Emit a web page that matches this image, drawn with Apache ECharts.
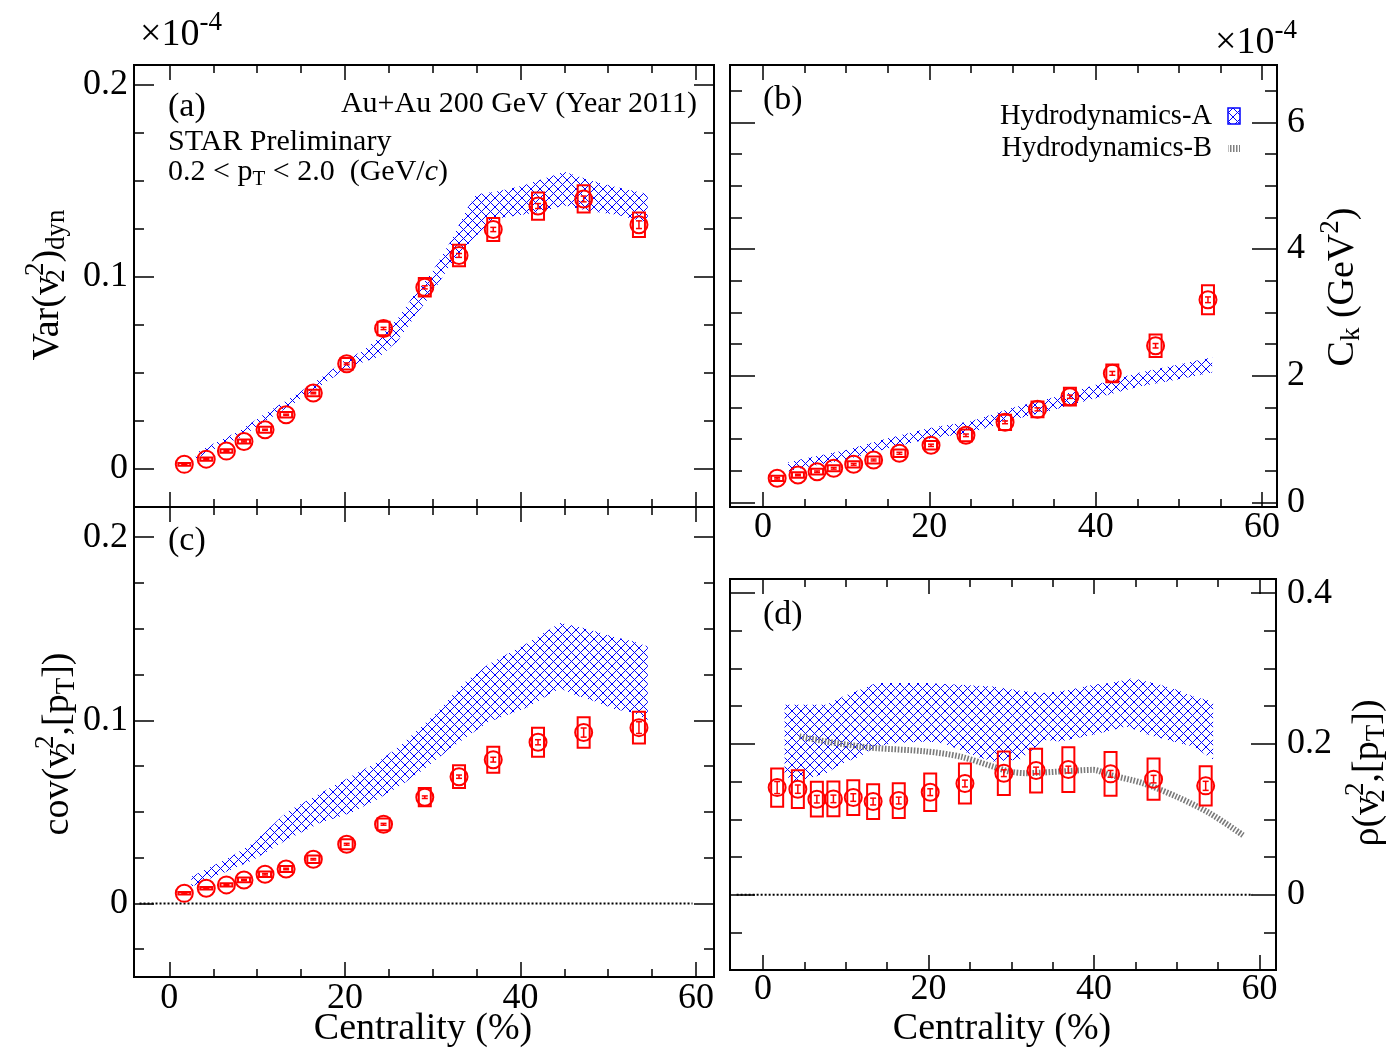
<!DOCTYPE html>
<html>
<head>
<meta charset="utf-8">
<script src="https://cdn.jsdelivr.net/npm/echarts@6/dist/echarts.min.js"></script>
<style>
  html, body { margin: 0; padding: 0; background: #fff; }
  #chart { width: 1390px; height: 1052px; }
</style>
</head>
<body>
<div id="chart"></div>
<script>
// ---- measured points (centrality bin centres, %) ----
const centrality = [1.7, 4.2, 6.5, 8.5, 10.9, 13.3, 16.4, 20.2, 24.4, 29.1, 33.0, 36.9, 42.0, 47.2, 53.5];

// (a) Var(v2^2)_dyn  [x1e-4]
const varDyn  = [0.0023, 0.0050, 0.0092, 0.0142, 0.0203, 0.0281, 0.0394, 0.0546, 0.0730, 0.0944, 0.1110, 0.1245, 0.1367, 0.1404, 0.1270];
const varSys  = [0.0007, 0.0008, 0.0009, 0.0010, 0.0016, 0.0014, 0.0017, 0.0030, 0.0035, 0.0048, 0.0056, 0.0060, 0.0071, 0.0071, 0.0064];
const varStat = [0.0002, 0.0002, 0.0002, 0.0003, 0.0003, 0.0003, 0.0004, 0.0005, 0.0006, 0.0008, 0.0010, 0.0011, 0.0013, 0.0015, 0.0020];

// (b) C_k  [x1e-4 GeV^2]
const ck     = [0.379, 0.431, 0.483, 0.537, 0.600, 0.668, 0.774, 0.900, 1.058, 1.263, 1.468, 1.667, 2.036, 2.472, 3.198];
const ckSys  = [0.042, 0.042, 0.045, 0.047, 0.050, 0.055, 0.060, 0.068, 0.092, 0.120, 0.124, 0.140, 0.140, 0.176, 0.229];
const ckStat = [0.012, 0.012, 0.012, 0.013, 0.014, 0.015, 0.016, 0.018, 0.020, 0.022, 0.024, 0.026, 0.030, 0.035, 0.045];

// (c) cov(v2^2,[pT])  [x1e-4]
const cov     = [0.0055, 0.0083, 0.0101, 0.0128, 0.0159, 0.0188, 0.0241, 0.0323, 0.0432, 0.0580, 0.0692, 0.0785, 0.0880, 0.0933, 0.0960];
const covSys  = [0.0007, 0.0007, 0.0009, 0.0013, 0.0015, 0.0016, 0.0020, 0.0027, 0.0032, 0.0050, 0.0062, 0.0071, 0.0079, 0.0083, 0.0087];
const covStat = [0.0003, 0.0003, 0.0003, 0.0003, 0.0004, 0.0004, 0.0004, 0.0005, 0.0005, 0.0007, 0.0009, 0.0013, 0.0014, 0.0025, 0.0032];

// (d) rho(v2^2,[pT])
const rho     = [0.1421, 0.1400, 0.1267, 0.1271, 0.1289, 0.1236, 0.1249, 0.1360, 0.1475, 0.1612, 0.1647, 0.1660, 0.1603, 0.1533, 0.1444];
const rhoSys  = [0.0254, 0.0250, 0.0230, 0.0230, 0.0230, 0.0230, 0.0230, 0.0248, 0.0265, 0.0288, 0.0290, 0.0296, 0.0290, 0.0274, 0.0260];
const rhoStat = [0.0080, 0.0055, 0.0050, 0.0050, 0.0050, 0.0045, 0.0045, 0.0045, 0.0045, 0.0045, 0.0045, 0.0045, 0.0045, 0.0050, 0.0060];

// ---- Hydrodynamics-A bands (lower / upper edges) ----
const bandAx  = [3, 5, 8, 11, 14, 17, 20, 22, 24, 26, 28, 30, 32, 34, 35, 37, 40, 42, 45, 48, 51, 54.5];
const bandALo = [0.0051, 0.0100, 0.0162, 0.0250, 0.0334, 0.0425, 0.0515, 0.0553, 0.0585, 0.0664, 0.0793, 0.0919, 0.1060, 0.1166, 0.1214, 0.1300, 0.1320, 0.1335, 0.1370, 0.1340, 0.1322, 0.1280];
const bandAHi = [0.0081, 0.0130, 0.0198, 0.0290, 0.0374, 0.0465, 0.0565, 0.0613, 0.0685, 0.0780, 0.0913, 0.1029, 0.1180, 0.1360, 0.1430, 0.1440, 0.1470, 0.1500, 0.1545, 0.1500, 0.1465, 0.1430];

const bandBx  = [3, 5, 10, 15, 20, 25, 30, 35, 40, 45, 50, 54];
const bandBLo = [0.49, 0.55, 0.675, 0.85, 1.005, 1.10, 1.305, 1.46, 1.645, 1.82, 1.945, 2.05];
const bandBHi = [0.63, 0.69, 0.825, 1.01, 1.175, 1.28, 1.495, 1.66, 1.855, 2.04, 2.175, 2.29];

const bandCx  = [2.5, 7, 9.5, 13.4, 17.3, 20.6, 24, 26.6, 29, 30.4, 32.3, 33.5, 36.3, 40.9, 44.5, 46.3, 48.6, 50.7, 52.8, 54.5];
const bandCLo = [0.0091, 0.0184, 0.0236, 0.0347, 0.0442, 0.0493, 0.0575, 0.0652, 0.0732, 0.0786, 0.0856, 0.0896, 0.0990, 0.1072, 0.1175, 0.1137, 0.1102, 0.1061, 0.1042, 0.1002];
const bandCHi = [0.0146, 0.0255, 0.0328, 0.0501, 0.0605, 0.0692, 0.0780, 0.0875, 0.0978, 0.1039, 0.1140, 0.1203, 0.1305, 0.1425, 0.1531, 0.1515, 0.1485, 0.1455, 0.1432, 0.1403];

const bandDx  = [2.6, 3.6, 5.6, 7.65, 9.65, 11.7, 13.7, 15.7, 19.75, 21.75, 23.8, 25.8, 27.8, 31.0, 32.6, 33.85, 35.9, 39.9, 41.9, 43.9, 44.7, 45.9, 48.0, 50.0, 52.0, 54.4];
const bandDLo = [0.160, 0.150, 0.1546, 0.1612, 0.1745, 0.1833, 0.1966, 0.2010, 0.2032, 0.2010, 0.1922, 0.1833, 0.1767, 0.1789, 0.1922, 0.2054, 0.2032, 0.2120, 0.2175, 0.2231, 0.2200, 0.2143, 0.2077, 0.2020, 0.1966, 0.1789];
const bandDHi = [0.2519, 0.2519, 0.2519, 0.2519, 0.2630, 0.2718, 0.2807, 0.2807, 0.2807, 0.2795, 0.2784, 0.2773, 0.2762, 0.2710, 0.2685, 0.2674, 0.2696, 0.2784, 0.2807, 0.2850, 0.2873, 0.2840, 0.2784, 0.2718, 0.2630, 0.2563];

// ---- Hydrodynamics-B curve for (d) ----
const hydroBx = [4.4, 7.65, 11.7, 13.7, 19.75, 23.8, 27.8, 29.8, 31.8, 35.9, 39.9, 41.9, 45.9, 50.0, 54.0, 58.0];
const hydroBy = [0.2098, 0.2032, 0.1966, 0.1944, 0.1900, 0.1833, 0.1700, 0.1634, 0.1612, 0.1634, 0.1656, 0.1590, 0.1480, 0.1300, 0.1080, 0.0790];

// ---- zero reference lines ----
const zeroLineC = [-3.4, 59.6];
const zeroLineD = [-3.2, 59.2];

// ---- tick values ----
const xMajor  = [0, 20, 40, 60];
const xMinor  = [5, 10, 15, 25, 30, 35, 45, 50, 55];
const aYMajor = [0, 0.1, 0.2];
const aYMinor = [0.025, 0.05, 0.075, 0.125, 0.15, 0.175];
const bYMajor = [0, 2, 4, 6];
const bYMinor = [0.5, 1, 1.5, 2.5, 3, 3.5, 4.5, 5, 5.5, 6.5];
const cYMajor = [0, 0.1, 0.2];
const cYMinor = [-0.025, 0.025, 0.05, 0.075, 0.125, 0.15, 0.175];
const dYMajor = [0, 0.2, 0.4];
const dYMinor = [-0.05, 0.05, 0.1, 0.15, 0.25, 0.3, 0.35];

// ---------------------------------------------------------------
const FONT = '"Liberation Serif", "Times New Roman", serif';
const RED = '#ff0000';
const BLUE = '#0000ff';

function crossHatch(size, color) {
  const c = document.createElement('canvas');
  c.width = size; c.height = size;
  const g = c.getContext('2d');
  g.strokeStyle = color; g.lineWidth = 1;
  g.beginPath();
  g.moveTo(-1, -1); g.lineTo(size + 1, size + 1);
  g.moveTo(size + 1, -1); g.lineTo(-1, size + 1);
  g.stroke();
  return c;
}
function vStripes(color) {
  const c = document.createElement('canvas');
  c.width = 3; c.height = 3;
  const g = c.getContext('2d');
  g.fillStyle = color; g.fillRect(0, 0, 1.5, 3);
  return c;
}
const hatchFill = { image: crossHatch(9, BLUE), repeat: 'repeat' };
const stripeFill = { image: vStripes('#808080'), repeat: 'repeat' };

const grids = [
  { left: 134, top: 65,  width: 580, height: 442 },   // (a)
  { left: 730, top: 65,  width: 547, height: 442 },   // (b)
  { left: 134, top: 507, width: 580, height: 470 },   // (c)
  { left: 730, top: 579, width: 546, height: 391 }    // (d)
].map(g => Object.assign({ show: true, borderColor: '#000', borderWidth: 2, backgroundColor: 'transparent' }, g));

const panels = [
  { x: [-4.03, 62.05], y: [-0.0199, 0.2101], yMaj: aYMajor, yMin: aYMinor, ySide: 'left',  xLab: false, yLen: [20, 10], yMargin: 6,  xMargin: 4 },
  { x: [-3.97, 61.8],  y: [-0.074, 6.905],   yMaj: bYMajor, yMin: bYMinor, ySide: 'right', xLab: true,  yLen: [25, 12], yMargin: 10, xMargin: 3 },
  { x: [-4.03, 62.05], y: [-0.0402, 0.2165], yMaj: cYMajor, yMin: cYMinor, ySide: 'left',  xLab: true,  yLen: [20, 10], yMargin: 6,  xMargin: 4 },
  { x: [-4.0, 62.0],   y: [-0.0998, 0.4187], yMaj: dYMajor, yMin: dYMinor, ySide: 'right', xLab: true,  yLen: [25, 12], yMargin: 11, xMargin: 2 }
];

const tickLine = { color: '#000', width: 1.5 };
const labelStyle = { fontFamily: FONT, fontSize: 36, color: '#000' };

function axis(g, range, pos, values, len, showLabel, margin) {
  return {
    type: 'value', gridIndex: g, min: range[0], max: range[1], position: pos,
    axisLine: { show: false, onZero: false }, splitLine: { show: false },
    axisTick: { show: true, inside: true, length: len, customValues: values, lineStyle: tickLine },
    axisLabel: Object.assign({ show: showLabel, customValues: values, margin: margin,
      formatter: v => String(+v.toFixed(3)) }, labelStyle)
  };
}

const xAxes = [], yAxes = [];
panels.forEach((p, g) => {
  xAxes.push(axis(g, p.x, 'bottom', xMajor, 15, p.xLab, p.xMargin));
  xAxes.push(axis(g, p.x, 'top', xMajor, 15, false, 0));
  xAxes.push(axis(g, p.x, 'bottom', xMinor, 8, false, 0));
  xAxes.push(axis(g, p.x, 'top', xMinor, 8, false, 0));
  yAxes.push(axis(g, p.y, 'left', p.yMaj, p.yLen[0], p.ySide === 'left', p.yMargin));
  yAxes.push(axis(g, p.y, 'right', p.yMaj, p.yLen[0], p.ySide === 'right', p.yMargin));
  yAxes.push(axis(g, p.y, 'left', p.yMin, p.yLen[1], false, 0));
  yAxes.push(axis(g, p.y, 'right', p.yMin, p.yLen[1], false, 0));
});

function zip(...arrs) { return arrs[0].map((_, i) => arrs.map(a => a[i])); }

// band polygon: upper edge left->right, lower edge right->left
function renderBand(params, api) {
  if (params.dataIndex !== 0) return null;
  const n = params.dataInsideLength;
  const up = [], lo = [];
  for (let i = 0; i < n; i++) {
    const x = api.value(0, i);
    up.push(api.coord([x, api.value(2, i)]));
    lo.unshift(api.coord([x, api.value(1, i)]));
  }
  return { type: 'polygon', shape: { points: up.concat(lo) }, style: { fill: hatchFill, stroke: null } };
}

// measured point: systematic box, open circle, statistical bar
function renderPoint(params, api) {
  const x = api.value(0), y = api.value(1), s = api.value(2), st = api.value(3);
  const c = api.coord([x, y]);
  const bTop = api.coord([x, y + s])[1], bBot = api.coord([x, y - s])[1];
  const sTop = api.coord([x, y + st])[1], sBot = api.coord([x, y - st])[1];
  const ln = { stroke: RED, lineWidth: 2, fill: null };
  return {
    type: 'group', children: [
      { type: 'rect', shape: { x: c[0] - 6, y: bTop, width: 12, height: bBot - bTop }, style: ln },
      { type: 'circle', shape: { cx: c[0], cy: c[1], r: 8.5 }, style: ln },
      { type: 'line', shape: { x1: c[0], y1: sTop, x2: c[0], y2: sBot }, style: { stroke: RED, lineWidth: 1.5 } },
      { type: 'line', shape: { x1: c[0] - 3, y1: sTop, x2: c[0] + 3, y2: sTop }, style: { stroke: RED, lineWidth: 1.5 } },
      { type: 'line', shape: { x1: c[0] - 3, y1: sBot, x2: c[0] + 3, y2: sBot }, style: { stroke: RED, lineWidth: 1.5 } }
    ]
  };
}

const series = [];
const bands = [[bandAx, bandALo, bandAHi], [bandBx, bandBLo, bandBHi], [bandCx, bandCLo, bandCHi], [bandDx, bandDLo, bandDHi]];
const points = [[varDyn, varSys, varStat], [ck, ckSys, ckStat], [cov, covSys, covStat], [rho, rhoSys, rhoStat]];
bands.forEach((b, g) => {
  series.push({ type: 'custom', name: 'Hydrodynamics-A', xAxisIndex: 4 * g, yAxisIndex: 4 * g, z: 1,
    data: zip(b[0], b[1], b[2]), encode: { x: 0, y: [1, 2] }, renderItem: renderBand, silent: true });
});
series.push({ type: 'line', name: 'zero', xAxisIndex: 8, yAxisIndex: 8, z: 2, symbol: 'none', silent: true,
  data: zeroLineC.map(x => [x, 0]), lineStyle: { color: '#000', width: 2, type: [2, 2] } });
series.push({ type: 'line', name: 'zero', xAxisIndex: 12, yAxisIndex: 12, z: 2, symbol: 'none', silent: true,
  data: zeroLineD.map(x => [x, 0]), lineStyle: { color: '#000', width: 2, type: [2, 2] } });
series.push({ type: 'line', name: 'Hydrodynamics-B', xAxisIndex: 12, yAxisIndex: 12, z: 2, symbol: 'none', smooth: 0.3, silent: true,
  data: zip(hydroBx, hydroBy), lineStyle: { color: '#7a7a7a', width: 6, type: [1.6, 1.6], cap: 'butt' } });
points.forEach((p, g) => {
  series.push({ type: 'custom', name: 'STAR', xAxisIndex: 4 * g, yAxisIndex: 4 * g, z: 3, silent: true,
    data: zip(centrality, p[0], p[1], p[2]), encode: { x: 0, y: 1 }, renderItem: renderPoint });
});

// ---- text ----
const rich = {
  m:  { fontFamily: FONT, fontSize: 38, color: '#000' },
  b:  { fontFamily: FONT, fontSize: 27, color: '#000', padding: [18, 0, 0, 0] },
  bs: { fontFamily: FONT, fontSize: 27, color: '#000', padding: [18, 0, 0, 0], width: 0 },
  p:  { fontFamily: FONT, fontSize: 27, color: '#000', padding: [0, 0, 24, 0] }
};
const richSmall = {
  m: { fontFamily: FONT, fontSize: 30, color: '#000' },
  i: { fontFamily: FONT, fontSize: 30, color: '#000', fontStyle: 'italic' },
  b: { fontFamily: FONT, fontSize: 21, color: '#000', padding: [14, 0, 0, 0] }
};
const richExp = {
  m: { fontFamily: FONT, fontSize: 38, color: '#000' },
  p: { fontFamily: FONT, fontSize: 27, color: '#000', padding: [0, 0, 26, 0] }
};

function txt(x, y, text, size, align) {
  return { type: 'text', x: x, y: y, silent: true,
    style: { text: text, fontFamily: FONT, fontSize: size, fill: '#000', align: align || 'left', verticalAlign: 'middle' } };
}
function vtitle(x, y, text) {
  return { type: 'text', x: x, y: y, rotation: Math.PI / 2, silent: true,
    style: { text: text, rich: rich, fontFamily: FONT, fontSize: 38, fill: '#000', align: 'center', verticalAlign: 'middle' } };
}

const graphics = [
  { type: 'text', x: 140, y: 62, silent: true, style: { text: '{m|×10}{p|-4}', rich: richExp, align: 'left', verticalAlign: 'bottom' } },
  { type: 'text', x: 1215, y: 70, silent: true, style: { text: '{m|×10}{p|-4}', rich: richExp, align: 'left', verticalAlign: 'bottom' } },
  txt(168, 107, '(a)', 34),
  txt(697, 104, 'Au+Au 200 GeV (Year 2011)', 30, 'right'),
  txt(168, 142, 'STAR Preliminary', 30),
  { type: 'text', x: 168, y: 172, silent: true,
    style: { text: '{m|0.2 < p}{b|T}{m| < 2.0  (GeV/}{i|c}{m|)}', rich: richSmall, align: 'left', verticalAlign: 'middle' } },
  txt(763, 100, '(b)', 34),
  txt(168, 541, '(c)', 34),
  txt(763, 615, '(d)', 34),
  txt(1212, 117, 'Hydrodynamics-A', 28.5, 'right'),
  txt(1212, 149, 'Hydrodynamics-B', 28.5, 'right'),
  { type: 'rect', silent: true, shape: { x: 1228, y: 108, width: 12, height: 16 }, style: { fill: hatchFill, stroke: BLUE, lineWidth: 1.5 } },
  { type: 'rect', silent: true, shape: { x: 1228, y: 145, width: 12, height: 7 }, style: { fill: stripeFill } },
  txt(423, 1029, 'Centrality (%)', 38, 'center'),
  txt(1002, 1029, 'Centrality (%)', 38, 'center'),
  vtitle(48, 285, '{m|Var(v}{bs|2}{p|2}{m|)}{b|dyn}'),
  vtitle(58, 744, '{m|cov(v}{bs|2}{p|2}{m|,[p}{b|T}{m|])}'),
  vtitle(1343, 287, '{m|C}{b|k}{m| (GeV}{p|2}{m|)}'),
  vtitle(1368, 773, '{m|ρ(v}{bs|2}{p|2}{m|,[p}{b|T}{m|])}')
];

const chart = echarts.init(document.getElementById('chart'), null, { renderer: 'canvas', width: 1390, height: 1052 });
chart.setOption({
  animation: false,
  backgroundColor: '#ffffff',
  grid: grids,
  xAxis: xAxes,
  yAxis: yAxes,
  series: series,
  graphic: { elements: graphics }
});
</script>
</body>
</html>
